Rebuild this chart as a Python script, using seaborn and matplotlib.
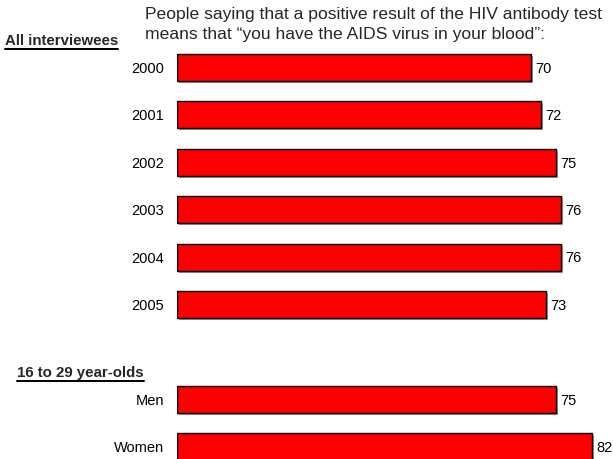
import matplotlib
matplotlib.use("Agg")
import matplotlib.pyplot as plt
import matplotlib.patheffects as pe
from matplotlib.lines import Line2D
import seaborn as sns
import pandas as pd

# Survey results (percent)
years = ["2000", "2001", "2002", "2003", "2004", "2005"]
year_values = [70, 72, 75, 76, 76, 73]
groups = ["Men", "Women"]
group_values = [75, 82]

title_lines = [
    "People saying that a positive result of the HIV antibody test",
    "means that \u201cyou have the AIDS virus in your blood\u201d:",
]
section_all = "All interviewees"
section_young = "16 to 29 year-olds"

df = pd.DataFrame({
    "label": years + groups,
    "value": year_values + group_values,
})
order = years + [" "] + groups

sns.set_theme(style="white")
plt.rcParams["font.family"] = ["Liberation Sans", "DejaVu Sans"]

W, H = 613, 459
fig = plt.figure(figsize=(W / 100, H / 100), dpi=100)
ax = fig.add_axes([177 / W, 0, 436 / W, 1])

sns.barplot(data=df, x="value", y="label", order=order, orient="h",
            color="#ff0000", saturation=1, width=0.57,
            edgecolor="black", linewidth=1.0, ax=ax)

for bar in ax.patches:
    bar.set_path_effects([
        pe.SimplePatchShadow(offset=(1.5, -1.5), shadow_rgbFace="#9a9a9a", alpha=1),
        pe.Normal(),
    ])

for c in ax.containers:
    for t in ax.bar_label(c, fmt="%d", padding=3, fontsize=10.5, color="black"):
        t.set_y(-1.0)

ax.set_xlim(0, 86.2)
ax.set_ylim(8.26, -1.424)
ax.set_xlabel("")
ax.set_ylabel("")
ax.set_xticks([])
ax.tick_params(axis="y", length=0, pad=9.5, labelsize=10.5, labelcolor="black")
for s in ax.spines.values():
    s.set_visible(False)
ax.set_facecolor("white")

fig.text(145 / W, 1 - 19 / H, title_lines[0], fontsize=12.6, va="baseline", ha="left")
fig.text(145 / W, 1 - 39 / H, title_lines[1], fontsize=12.6, va="baseline", ha="left")

renderer = fig.canvas.get_renderer()


def underlined(x, y, s):
    t = fig.text(x / W, 1 - y / H, s, fontsize=10.8, fontweight="bold",
                 va="baseline", ha="left")
    bb = t.get_window_extent(renderer=renderer)
    uy = 1 - (y + 4) / H
    fig.add_artist(Line2D([bb.x0 / W, bb.x1 / W], [uy, uy],
                          color="black", linewidth=1.44))


underlined(5, 45, section_all)
underlined(17, 377, section_young)

fig.savefig("out.png", dpi=100, facecolor="white")
